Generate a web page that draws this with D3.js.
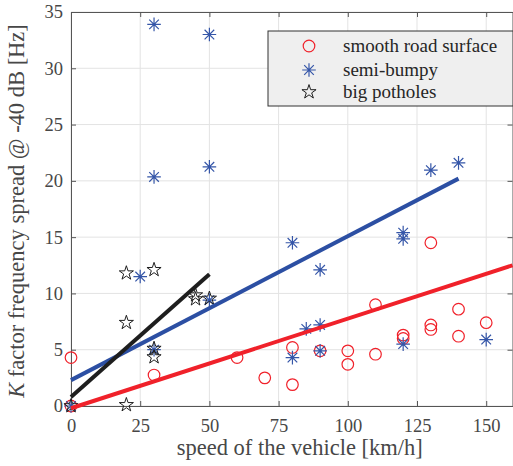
<!DOCTYPE html>
<html>
<head>
<meta charset="utf-8">
<script src="https://cdn.jsdelivr.net/npm/d3@7"></script>
<style>
  body { margin: 0; background: #fff; }
  svg { display: block; font-family: "Liberation Serif", "Times New Roman", serif; }
</style>
</head>
<body>
<svg id="chart"></svg>
<script>
// smooth road surface
var smoothX = [0, 0, 30, 60, 70, 80, 80, 90, 100, 100, 110, 110, 120, 120, 130, 130, 130, 140, 140, 150];
var smoothY = [0, 4.3, 2.75, 4.3, 2.5, 1.9, 5.2, 4.9, 4.9, 3.7, 4.6, 9.0, 6.3, 6.0, 7.2, 6.8, 14.5, 8.6, 6.2, 7.4];
// semi-bumpy
var bumpyX = [0, 25, 30, 30, 30, 50, 50, 50, 80, 80, 85, 90, 90, 90, 120, 120, 120, 130, 140, 150];
var bumpyY = [0, 11.5, 33.9, 20.35, 5.0, 33.0, 21.25, 9.4, 14.5, 4.3, 6.85, 12.1, 7.2, 4.9, 15.4, 14.85, 5.5, 20.95, 21.6, 5.9];
// big potholes
var potholeX = [0, 20, 20, 20, 30, 30, 30, 45, 45, 50];
var potholeY = [0, 0.1, 7.4, 11.8, 12.1, 5.1, 4.35, 9.85, 9.5, 9.55];

// fitted lines (end points)
var fitSmoothX = [0, 159.5], fitSmoothY = [-0.2, 12.5];
var fitBumpyX = [0, 140], fitBumpyY = [2.3, 20.2];
var fitPotholeX = [0, 50], fitPotholeY = [0.8, 11.7];

var xTicks = [0, 25, 50, 75, 100, 125, 150];
var yTicks = [0, 5, 10, 15, 20, 25, 30, 35];
var seriesNames = ["smooth road surface", "semi-bumpy", "big potholes"];

var W = 513, H = 466;
var RED = "#f0212a", BLUE = "#3556a8", BLUELINE = "#2c4fa3", BLACK = "#1e1e1e";

var svg = d3.select("#chart").attr("width", W).attr("height", H);

var x = d3.scaleLinear().domain([0, 159.5]).range([71, 512.5]);
var y = d3.scaleLinear().domain([0, 35]).range([406, 12]);

function zip(xs, ys) { return xs.map(function (v, i) { return {x: v, y: ys[i]}; }); }

// grid
var grid = svg.append("g").attr("stroke", "#e3e3e3").attr("stroke-width", 1);
grid.selectAll("line.gx").data(xTicks).enter().append("line")
  .attr("x1", function (d) { return x(d); }).attr("x2", function (d) { return x(d); })
  .attr("y1", y(0)).attr("y2", y(35));
grid.selectAll("line.gy").data(yTicks).enter().append("line")
  .attr("y1", function (d) { return y(d); }).attr("y2", function (d) { return y(d); })
  .attr("x1", x(0)).attr("x2", x(159.5));

// axes
function styleAxis(g, size) {
  g.select(".domain").attr("stroke", "#555");
  g.selectAll(".tick line").attr("stroke", "#555");
  g.selectAll(".tick text").attr("fill", "#474747").attr("font-size", size)
    .attr("font-family", "Liberation Serif, serif");
}
svg.append("g").attr("transform", "translate(0," + y(0) + ")")
  .call(d3.axisBottom(x).tickValues(xTicks).tickSizeInner(-5).tickSizeOuter(0).tickPadding(13))
  .call(styleAxis, 18.5);
svg.append("g").attr("transform", "translate(0," + y(35) + ")")
  .call(d3.axisTop(x).tickValues(xTicks).tickSizeInner(-5).tickSizeOuter(0).tickFormat(""))
  .call(styleAxis, 18.5);
svg.append("g").attr("transform", "translate(" + x(0) + ",0)")
  .call(d3.axisLeft(y).tickValues(yTicks).tickSizeInner(-5).tickSizeOuter(0).tickPadding(8))
  .call(styleAxis, 18.5);
svg.append("g").attr("transform", "translate(" + x(159.5) + ",0)")
  .call(d3.axisRight(y).tickValues(yTicks).tickSizeInner(-5).tickSizeOuter(0).tickFormat(""))
  .call(styleAxis, 18.5);

// axis labels
svg.append("text").attr("x", (x(0) + x(159.5)) / 2 + 8).attr("y", 455)
  .attr("text-anchor", "middle").attr("font-size", 22.5).attr("fill", "#474747")
  .text("speed of the vehicle [km/h]");
var yl = svg.append("text").attr("transform", "translate(24,211) rotate(-90)")
  .attr("text-anchor", "middle").attr("font-size", 22.5).attr("fill", "#474747");
yl.append("tspan").attr("font-style", "italic").text("K");
yl.append("tspan").text(" factor frequency spread @ -40 dB [Hz]");

// marker shapes
function asterisk(r) {
  var d = r * Math.SQRT1_2;
  return "M0," + (-r) + "V" + r + "M" + (-r) + ",0H" + r +
    "M" + (-d) + "," + (-d) + "L" + d + "," + d + "M" + (-d) + "," + d + "L" + d + "," + (-d);
}
var star = d3.symbol().type(d3.symbolStar).size(62)();

function drawCircles(g, pts) {
  g.selectAll("circle").data(pts).enter().append("circle")
    .attr("cx", function (d) { return x(d.x); }).attr("cy", function (d) { return y(d.y); })
    .attr("r", 5.8).attr("fill", "none").attr("stroke", RED).attr("stroke-width", 1.2);
}
function drawAsterisks(g, pts) {
  g.selectAll("path").data(pts).enter().append("path")
    .attr("transform", function (d) { return "translate(" + x(d.x) + "," + y(d.y) + ")"; })
    .attr("d", asterisk(6.8)).attr("fill", "none").attr("stroke", BLUE).attr("stroke-width", 1.2);
}
function drawStars(g, pts) {
  g.selectAll("path").data(pts).enter().append("path")
    .attr("transform", function (d) { return "translate(" + x(d.x) + "," + y(d.y) + ")"; })
    .attr("d", star).attr("fill", "none").attr("stroke", BLACK).attr("stroke-width", 1);
}

drawCircles(svg.append("g"), zip(smoothX, smoothY));
drawAsterisks(svg.append("g"), zip(bumpyX, bumpyY));
drawStars(svg.append("g"), zip(potholeX, potholeY));

// fit lines
var line = d3.line().x(function (d) { return x(d.x); }).y(function (d) { return y(d.y); });
[[fitSmoothX, fitSmoothY, RED], [fitBumpyX, fitBumpyY, BLUELINE], [fitPotholeX, fitPotholeY, BLACK]]
  .forEach(function (f) {
    svg.append("path").datum(zip(f[0], f[1])).attr("d", line)
      .attr("fill", "none").attr("stroke", f[2]).attr("stroke-width", 4);
  });

// legend
var lg = svg.append("g").attr("transform", "translate(268,31)");
lg.append("rect").attr("width", 245).attr("height", 75)
  .attr("fill", "#efefef").attr("stroke", "#333").attr("stroke-width", 1);
var rows = [15, 39, 61];
rows.forEach(function (ry, i) {
  var m = lg.append("g").attr("transform", "translate(41," + ry + ")");
  if (i === 0) m.append("circle").attr("r", 5.8).attr("fill", "none").attr("stroke", RED).attr("stroke-width", 1.2);
  if (i === 1) m.append("path").attr("d", asterisk(6.8)).attr("fill", "none").attr("stroke", BLUE).attr("stroke-width", 1.2);
  if (i === 2) m.append("path").attr("d", star).attr("fill", "none").attr("stroke", BLACK).attr("stroke-width", 1);
  lg.append("text").attr("x", 75).attr("y", ry + 6).attr("font-size", 19)
    .attr("fill", "#262626").text(seriesNames[i]);
});
</script>
</body>
</html>
